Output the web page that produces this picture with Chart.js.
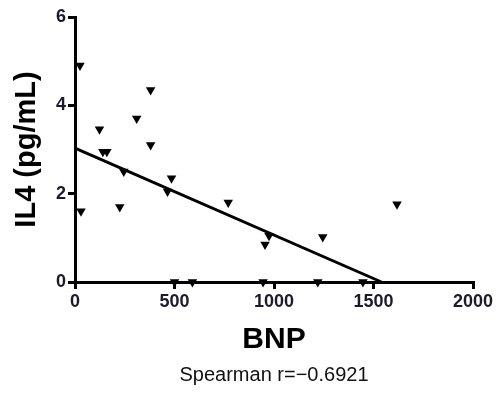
<!DOCTYPE html>
<html>
<head>
<meta charset="utf-8">
<script src="https://cdn.jsdelivr.net/npm/chart.js@4/dist/chart.umd.min.js"></script>
<style>
  html, body { margin: 0; padding: 0; background: #fff; }
  #wrap { width: 497px; height: 394px; }
</style>
</head>
<body>
<div id="wrap"><canvas id="c" width="497" height="394"></canvas></div>
<script>
// BNP (x) against IL4 (y), one entry per subject
const bnpValues = [25, 30, 123, 140, 160, 310, 380, 380, 245, 225, 485, 465, 500, 590, 770, 975, 955, 945, 1220, 1245, 1447, 1618];
const il4Values = [4.9, 1.6, 3.46, 2.95, 2.95, 3.7, 4.35, 3.1, 2.5, 1.7, 2.35, 2.05, 0, 0, 1.8, 1.05, 0.85, 0, 0, 1.02, 0, 1.76];

// fitted trend line endpoints
const fitX = [0, 1540];
const fitY = [3.03, 0];

const xTicks = [0, 500, 1000, 1500, 2000];
const yTicks = [0, 2, 4, 6];
const statText = 'Spearman r=\u22120.6921';

const FONT = '"Liberation Sans", Arial, Helvetica, sans-serif';
const INK = '#1b1b2b';

const points = bnpValues.map((x, i) => ({ x, y: il4Values[i] }));
const fitPoints = fitX.map((x, i) => ({ x, y: fitY[i] }));

// plain integer tick text, no thousands separator
const plainTick = v => String(v);

new Chart(document.getElementById('c'), {
  type: 'scatter',
  data: {
    datasets: [
      {
        data: points,
        pointStyle: 'triangle',
        rotation: 180,
        pointRadius: 5.5,
        pointHoverRadius: 5.5,
        backgroundColor: '#000',
        borderColor: '#000',
        borderWidth: 0,
        clip: false
      },
      {
        type: 'line',
        data: fitPoints,
        borderColor: '#000',
        borderWidth: 3,
        pointRadius: 0,
        fill: false,
        clip: false
      }
    ]
  },
  options: {
    responsive: false,
    animation: false,
    events: [],
    layout: { padding: { top: 17, right: 24, left: 0, bottom: 0 } },
    plugins: {
      legend: { display: false },
      tooltip: { enabled: false },
      title: {
        display: true,
        text: statText,
        position: 'bottom',
        fullSize: false,
        color: '#111',
        font: { family: FONT, size: 20, weight: 'normal' },
        padding: { top: 5, bottom: 7 }
      }
    },
    scales: {
      x: {
        type: 'linear',
        min: 0,
        max: 2000,
        afterBuildTicks: s => { s.ticks = xTicks.map(v => ({ value: v })); },
        afterFit: s => { s.height = 76; },
        ticks: {
          color: INK,
          font: { family: FONT, size: 18, weight: 'bold' },
          padding: 2,
          maxRotation: 0,
          callback: plainTick
        },
        grid: {
          display: true,
          drawOnChartArea: false,
          drawTicks: true,
          tickLength: 7,
          lineWidth: 3,
          color: '#000'
        },
        border: { display: true, width: 3, color: '#000' },
        title: {
          display: true,
          text: 'BNP',
          color: '#000',
          font: { family: FONT, size: 30, weight: 'bold' },
          padding: { top: 0, bottom: 0 }
        }
      },
      y: {
        type: 'linear',
        min: 0,
        max: 6,
        afterBuildTicks: s => { s.ticks = yTicks.map(v => ({ value: v })); },
        afterFit: s => { s.width = 75; },
        ticks: {
          color: INK,
          font: { family: FONT, size: 18, weight: 'bold' },
          padding: 2,
          callback: plainTick
        },
        grid: {
          display: true,
          drawOnChartArea: false,
          drawTicks: true,
          tickLength: 7,
          lineWidth: 3,
          color: '#000'
        },
        border: { display: true, width: 3, color: '#000' },
        title: {
          display: true,
          text: 'IL4 (pg/mL)',
          color: '#000',
          font: { family: FONT, size: 29, weight: 'bold' },
          padding: { top: 10, bottom: 0 }
        }
      }
    }
  }
});
</script>
</body>
</html>
